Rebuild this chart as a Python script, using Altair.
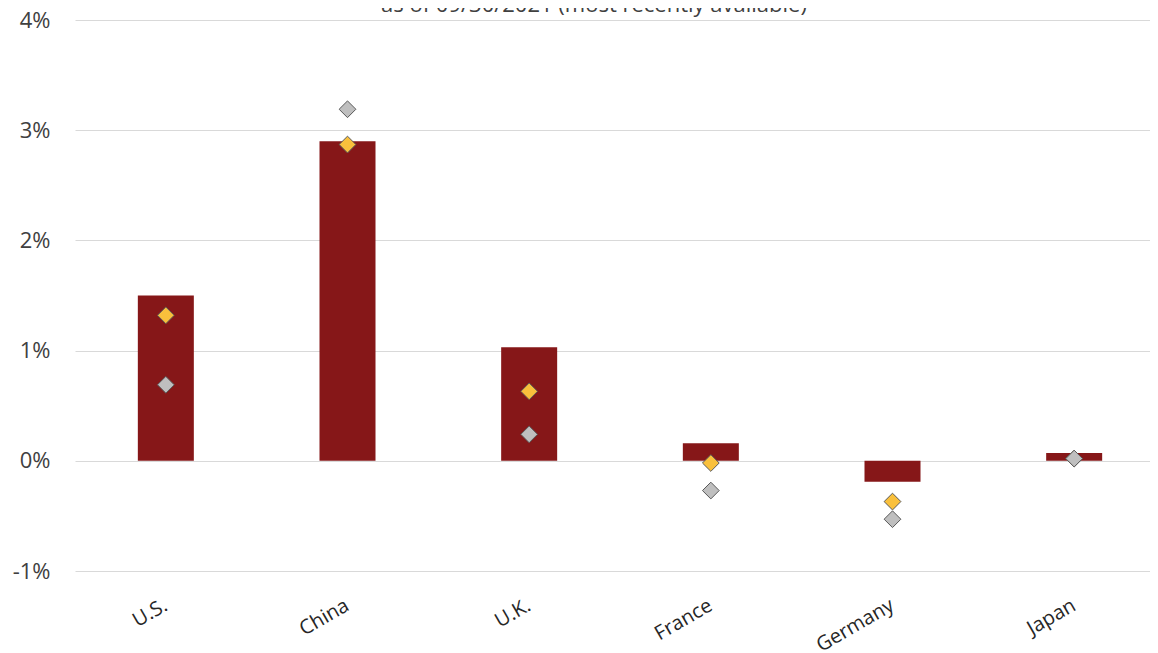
import altair as alt
import pandas as pd

countries = ["U.S.", "China", "U.K.", "France", "Germany", "Japan"]
bar_values = [0.0150, 0.0290, 0.0103, 0.0016, -0.0019, 0.0007]
yellow_values = [0.0132, 0.0287, 0.0063, -0.0002, -0.0037, 0.0002]
gray_values = [0.0069, 0.0319, 0.0024, -0.0027, -0.0053, 0.0002]
y_ticks = [-0.01, 0.0, 0.01, 0.02, 0.03, 0.04]
subtitle = "as of 09/30/2021 (most recently available)"

FONT = "Open Sans"

bars_df = pd.DataFrame({"country": countries, "value": bar_values})
yellow_df = pd.DataFrame({"country": countries, "value": yellow_values})
gray_df = pd.DataFrame({"country": countries, "value": gray_values})
title_df = pd.DataFrame({"t": [subtitle]})

x_axis = alt.Axis(
    title=None,
    labelAngle=330,
    labelAlign="right",
    labelBaseline="top",
    labelPadding=24,
    labelOffset=-5,
    labelFontSize=20,
    labelColor="#262626",
    labelFont=FONT,
    domain=False,
    ticks=False,
    grid=False,
)
x_scale = alt.Scale(range=[0, 1090], paddingInner=0, paddingOuter=0)

y_scale = alt.Scale(domain=[-0.01, 0.04], nice=False, zero=False)
y_axis = alt.Axis(
    title=None,
    values=y_ticks,
    labelExpr="(datum.value < 0 ? '-' : '') + format(abs(datum.value), '.0%')",
    labelFontSize=22,
    labelColor="#404040",
    labelFont=FONT,
    labelPadding=25,
    domain=False,
    ticks=False,
    grid=True,
    gridColor="#d9d9d9",
    gridWidth=1,
)


def xe():
    return alt.X("country:N", sort=countries, scale=x_scale, axis=x_axis)


def ye():
    return alt.Y("value:Q", scale=y_scale, axis=y_axis)


bars = alt.Chart(bars_df).mark_bar(size=56, color="#861718").encode(x=xe(), y=ye())

yellow = alt.Chart(yellow_df).mark_point(
    shape="diamond", size=280, filled=True, fill="#F9C03C",
    stroke="#595959", strokeWidth=1, opacity=1,
).encode(x=xe(), y=ye())

gray = alt.Chart(gray_df).mark_point(
    shape="diamond", size=280, filled=True, fill="#BFBFBF",
    stroke="#595959", strokeWidth=1, opacity=1,
).encode(x=xe(), y=ye())

title = alt.Chart(title_df).mark_text(
    font=FONT, fontSize=22, color="#404040", align="center", baseline="alphabetic"
).encode(text="t:N", x=alt.value(519), y=alt.value(-8))

chart = (
    alt.layer(bars, yellow, gray, title)
    .properties(
        width=1075,
        height=551,
        autosize=alt.AutoSizeParams(type="none"),
        padding={"left": 67, "top": 12, "right": 0, "bottom": 80},
    )
    .configure(font=FONT)
    .configure_view(strokeWidth=0, stroke="transparent")
    .configure_axis(domain=False, ticks=False)
)

chart.save("out.html", embed_options={"renderer": "svg", "actions": False})
